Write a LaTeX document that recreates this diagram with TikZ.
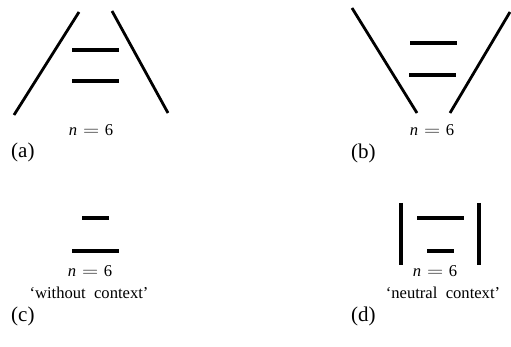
\documentclass[tikz,border=0pt]{standalone}
\usepackage{fontspec}
\usepackage{graphicx}
\setmainfont{Liberation Serif}
\newcommand{\eqsign}{\hspace{0.36em}\scalebox{1.3}[1]{$=$}\hspace{0.34em}}
\begin{document}
\begin{tikzpicture}[x=1pt,y=-1pt,
  edge/.style={line width=2.8pt},
  bar/.style={line width=4pt},
  post/.style={line width=3.6pt},
  lbl/.style={font=\fontsize{16.6}{20}\selectfont, inner sep=0pt},
  tag/.style={font=\fontsize{21}{24}\selectfont, inner sep=0pt, anchor=west}]
\useasboundingbox (0,0) rectangle (511,347);
% (a)
\draw[edge] (79,12) -- (14,115);
\draw[edge] (112,11) -- (168,113);
\draw[bar] (72,50) -- (119,50);
\draw[bar] (72,81) -- (119,81);
\node[lbl] (na) at (91,130) {\textit{n}\eqsign 6};
\node[tag] (ta) at (11,152) {(a)};
% (b)
\draw[edge] (352,8) -- (417,113);
\draw[edge] (510,12) -- (450,113);
\draw[bar] (410,43) -- (457,43);
\draw[bar] (409,75) -- (456,75);
\node[lbl] (nb) at (432,130) {\textit{n}\eqsign 6};
\node[tag] (tb) at (351,153) {(b)};
% (c)
\draw[bar] (82,218) -- (109,218);
\draw[bar] (72,251) -- (119,251);
\node[lbl] (nc) at (90,271) {\textit{n}\eqsign 6};
\node[lbl] (wc) at (89,293) {‘without\hspace{0.5em}context’};
\node[tag] (tc) at (11,316) {(c)};
% (d)
\draw[post] (401,203) -- (401,265);
\draw[post] (479,203) -- (479,265);
\draw[bar] (417,218) -- (464,218);
\draw[bar] (427,251) -- (454,251);
\node[lbl] (nd) at (435,271) {\textit{n}\eqsign 6};
\node[lbl] (wd) at (443,293) {‘neutral\hspace{0.5em}context’};
\node[tag] (td) at (351,316) {(d)};
\end{tikzpicture}
\end{document}
